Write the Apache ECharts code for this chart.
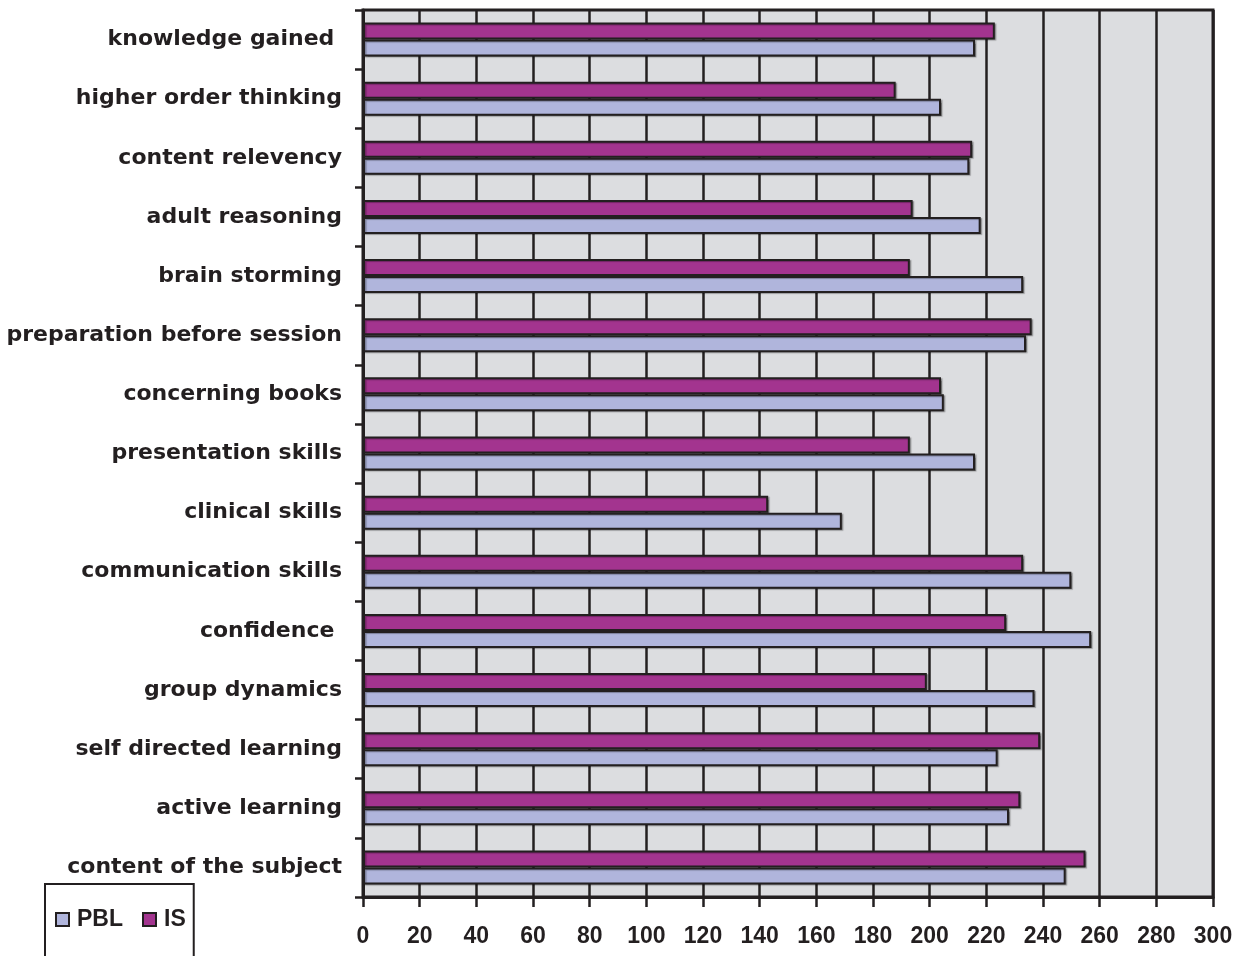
<!DOCTYPE html>
<html>
<head>
<meta charset="utf-8">
<script src="https://cdn.jsdelivr.net/npm/echarts@6/dist/echarts.min.js"></script>
<style>
  html, body { margin: 0; padding: 0; background: #ffffff; }
  #chart { width: 1244px; height: 956px; }
</style>
</head>
<body>
<div id="chart"></div>
<script>
// Survey items, listed top to bottom
const categories = [
  'knowledge gained ',
  'higher order thinking',
  'content relevency',
  'adult reasoning',
  'brain storming',
  'preparation before session',
  'concerning books',
  'presentation skills',
  'clinical skills',
  'communication skills',
  'confidence ',
  'group dynamics',
  'self directed learning',
  'active learning',
  'content of the subject'
];

// Scores per item
const isValues  = [223, 188, 215, 194, 193, 236, 204, 193, 143, 233, 227, 199, 239, 232, 255];
const pblValues = [216, 204, 214, 218, 233, 234, 205, 216, 169, 250, 257, 237, 224, 228, 248];

// Value axis ticks
const axisMin = 0;
const axisMax = 300;
const axisStep = 20;

const ink = '#231f20';
const barEdge = {
  borderColor: ink,
  borderWidth: 2,
  shadowColor: 'rgba(0,0,0,0.3)',
  shadowBlur: 1,
  shadowOffsetX: 1.5,
  shadowOffsetY: 1
};

const chart = echarts.init(document.getElementById('chart'));
chart.setOption({
  animation: false,
  textStyle: { fontFamily: '"Liberation Sans", Arial, sans-serif' },
  grid: {
    left: 363, right: 31, top: 10, bottom: 59,
    show: true,
    backgroundColor: '#dcdde0',
    borderColor: ink,
    borderWidth: 3
  },
  legend: {
    left: 45, top: 884,
    orient: 'horizontal',
    data: ['PBL', 'IS'],
    icon: 'rect',
    itemWidth: 13, itemHeight: 13,
    itemGap: 19,
    itemStyle: { borderColor: ink, borderWidth: 2, shadowBlur: 0, shadowOffsetX: 0, shadowOffsetY: 0 },
    padding: [24, 8, 40, 10],
    borderColor: ink,
    borderWidth: 2,
    textStyle: { fontSize: 23, fontWeight: 'bold', color: ink, padding: [0, 0, 0, 3] }
  },
  xAxis: {
    type: 'value',
    min: axisMin, max: axisMax, interval: axisStep,
    axisLine: { show: true, lineStyle: { color: ink, width: 3 } },
    axisTick: { show: true, length: 10, lineStyle: { color: ink, width: 2.5 } },
    splitLine: { show: true, lineStyle: { color: ink, width: 2.5 } },
    axisLabel: { fontSize: 23, fontWeight: 'bold', color: ink, margin: 28 }
  },
  yAxis: {
    type: 'category',
    data: categories,
    inverse: true,
    axisLine: { show: true, lineStyle: { color: ink, width: 3 } },
    axisTick: { show: true, length: 8, lineStyle: { color: ink, width: 2.5 } },
    axisLabel: {
      fontFamily: '"DejaVu Sans", sans-serif',
      fontSize: 22, fontWeight: 'bold', color: ink, margin: 21
    }
  },
  series: [
    {
      name: 'IS', type: 'bar', data: isValues,
      barWidth: 17, barGap: '0%',
      itemStyle: Object.assign({ color: '#a3348f' }, barEdge)
    },
    {
      name: 'PBL', type: 'bar', data: pblValues,
      barWidth: 17, barGap: '0%',
      itemStyle: Object.assign({ color: '#b0b5dc' }, barEdge)
    }
  ]
});
</script>
</body>
</html>
